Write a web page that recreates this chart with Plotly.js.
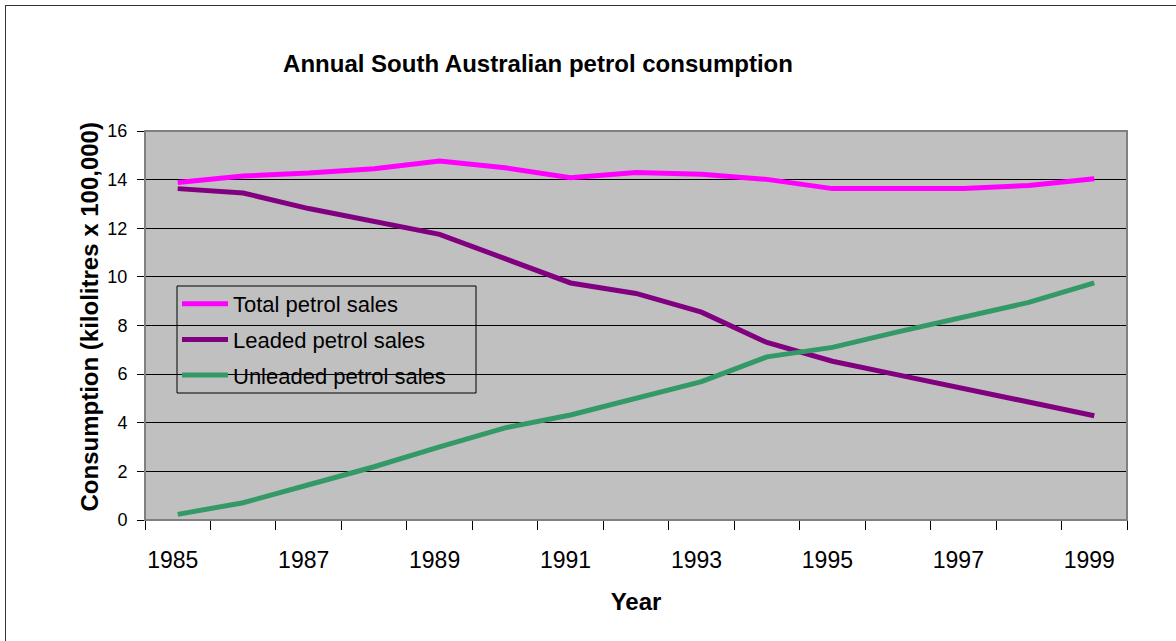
<!DOCTYPE html>
<html>
<head>
<meta charset="utf-8">
<script src="https://cdn.plot.ly/plotly-3.0.1.min.js"></script>
<style>
  html, body { margin: 0; padding: 0; background: #ffffff; overflow: hidden; }
  #frame { position: absolute; left: 5px; top: 5px; width: 2000px; height: 2000px; border: 1px solid #333333; pointer-events: none; }
  #chart { position: absolute; left: 0; top: 0; width: 1176px; height: 641px; }
</style>
</head>
<body>
<div id="frame"></div>
<div id="chart"></div>
<script>
const years = [1985, 1986, 1987, 1988, 1989, 1990, 1991, 1992, 1993, 1994, 1995, 1996, 1997, 1998, 1999];
const totalSales = [13.88, 14.15, 14.27, 14.45, 14.77, 14.49, 14.08, 14.29, 14.22, 14.01, 13.63, 13.62, 13.63, 13.76, 14.04];
const leadedSales = [13.63, 13.45, 12.81, 12.29, 11.75, 10.75, 9.75, 9.32, 8.55, 7.30, 6.53, 5.97, 5.41, 4.89, 4.29];
const unleadedSales = [0.23, 0.71, 1.45, 2.19, 3.01, 3.79, 4.32, 5.00, 5.69, 6.71, 7.10, 7.74, 8.36, 8.95, 9.75];
const seriesNames = ["Total petrol sales", "Leaded petrol sales", "Unleaded petrol sales"];
const xTickLabels = ["1985", "1987", "1989", "1991", "1993", "1995", "1997", "1999"];
const yTickValues = [0, 2, 4, 6, 8, 10, 12, 14, 16];

const FONT = "Liberation Sans, Arial, sans-serif";

const traces = [
  { x: years, y: totalSales, name: seriesNames[0], legendgroup: "g1", type: "scatter", mode: "lines",
    line: { color: "#FF00FF", width: 5 } },
  { x: years, y: leadedSales, name: seriesNames[1], legendgroup: "g2", type: "scatter", mode: "lines",
    line: { color: "#800080", width: 5 } },
  { x: years, y: unleadedSales, name: seriesNames[2], legendgroup: "g3", type: "scatter", mode: "lines",
    line: { color: "#339966", width: 5 } }
];

const layout = {
  width: 1176, height: 641,
  margin: { l: 145, r: 49, t: 131, b: 121 },
  paper_bgcolor: "rgba(0,0,0,0)",
  plot_bgcolor: "#C0C0C0",
  font: { family: FONT, color: "#000000" },
  showlegend: true,
  title: {
    text: "<b>Annual South Australian petrol consumption</b>",
    font: { family: FONT, size: 24, color: "#000000" },
    xref: "container", x: 538 / 1176, xanchor: "center",
    yref: "container", y: 1 - 64 / 641, yanchor: "middle"
  },
  xaxis: {
    range: [1984.5, 1999.5],
    tickmode: "array",
    tickvals: xTickLabels.map(Number),
    ticktext: xTickLabels,
    ticks: "outside", ticklen: 0,
    tickfont: { family: FONT, size: 23, color: "#000000" },
    ticklabelstandoff: 19,
    ticklabelshift: -5,
    showgrid: false, zeroline: false,
    showline: true, linecolor: "#000000", linewidth: 1,
    minor: { tickmode: "linear", tick0: 1984.5, dtick: 1, ticks: "outside", ticklen: 9, tickcolor: "#000000", tickwidth: 1, showgrid: false },
    title: { text: "<b>Year</b>", font: { family: FONT, size: 24, color: "#000000" }, standoff: 21 },
    fixedrange: true
  },
  yaxis: {
    range: [0, 16],
    tickmode: "array",
    tickvals: yTickValues,
    ticks: "outside", ticklen: 7, tickcolor: "#000000", tickwidth: 1,
    tickfont: { family: FONT, size: 18, color: "#000000" },
    ticklabelstandoff: 6,
    showgrid: true, gridcolor: "#000000", gridwidth: 1,
    zeroline: false,
    showline: true, linecolor: "#000000", linewidth: 1,
    fixedrange: true
  },
  annotations: [
    { text: "<b>Consumption (kilolitres x 100,000)</b>", textangle: -90,
      xref: "paper", yref: "paper", x: (88.5 - 145) / 982, y: 1 - (317 - 131) / 389,
      xanchor: "center", yanchor: "middle", showarrow: false,
      font: { family: FONT, size: 24, color: "#000000" } }
  ],
  legend: {
    x: 32 / 982, xanchor: "left",
    y: 1 - (283 - 131) / 389, yanchor: "top",
    bgcolor: "rgba(0,0,0,0)",
    borderwidth: 0,
    font: { family: FONT, size: 22, color: "#000000" },
    tracegroupgap: 4,
    itemwidth: 46
  },
  shapes: [
    { type: "rect", xref: "paper", yref: "paper", x0: 0, x1: 1, y0: 0, y1: 1,
      line: { color: "#808080", width: 2 }, layer: "above" },
    { type: "rect", xref: "paper", yref: "paper",
      x0: 32 / 982, x1: 331 / 982, y0: 1 - (393 - 131) / 389, y1: 1 - (286 - 131) / 389,
      line: { color: "#000000", width: 1 }, fillcolor: "rgba(0,0,0,0)", layer: "above" }
  ]
};

Plotly.newPlot("chart", traces, layout, { displayModeBar: false, staticPlot: true });
</script>
</body>
</html>
